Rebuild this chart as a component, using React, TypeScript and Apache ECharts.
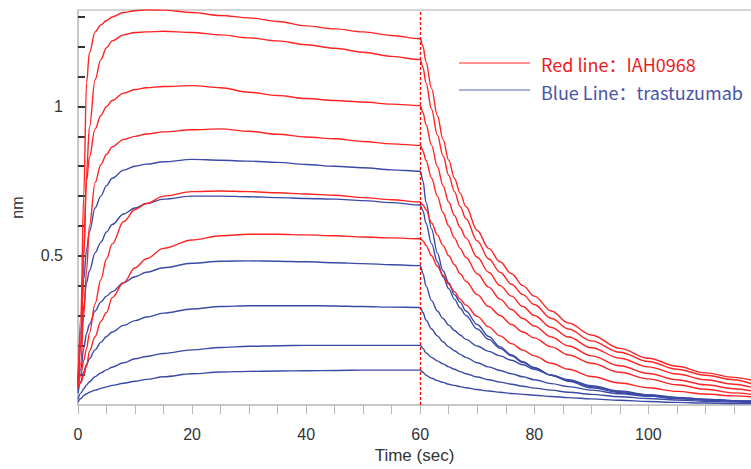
import React, { useEffect, useRef } from "react";
import * as echarts from "echarts";

// time axis (sec): association 0-60, dissociation 60-118
const timeSec = [
  0, 0.5, 1, 1.5, 2, 3, 4, 5, 6, 8, 10, 12, 15, 20, 25, 30, 35, 40, 45, 50, 55, 60,
  60.5, 61, 62, 63, 64, 65, 66, 67, 68, 70, 72, 74, 76, 78, 80, 83, 86, 90, 95, 100, 105, 110, 115, 118,
];

// IAH0968 (red) responses, nm
const red1 = [0.06, 0.3, 0.7, 1.08, 1.18, 1.25, 1.273, 1.288, 1.3, 1.315, 1.321, 1.324, 1.323, 1.315, 1.305, 1.297, 1.285, 1.27, 1.26, 1.25, 1.238, 1.227,
  1.2, 1.15, 1.06, 0.97, 0.89, 0.82, 0.76, 0.71, 0.665, 0.585, 0.525, 0.48, 0.44, 0.4, 0.365, 0.315, 0.275, 0.235, 0.19, 0.157, 0.13, 0.108, 0.093, 0.084];
const red2 = [0.06, 0.2, 0.5, 0.78, 0.93, 1.09, 1.157, 1.197, 1.22, 1.24, 1.248, 1.25, 1.252, 1.248, 1.24, 1.23, 1.22, 1.207, 1.195, 1.182, 1.168, 1.157,
  1.13, 1.08, 0.99, 0.905, 0.835, 0.77, 0.715, 0.665, 0.625, 0.55, 0.49, 0.445, 0.405, 0.37, 0.337, 0.29, 0.255, 0.215, 0.177, 0.146, 0.12, 0.1, 0.085, 0.072];
const red3 = [0.06, 0.2, 0.5, 0.75, 0.83, 0.925, 0.97, 1.0, 1.02, 1.045, 1.057, 1.063, 1.067, 1.07, 1.063, 1.048, 1.037, 1.027, 1.02, 1.015, 1.008, 1.003,
  0.98, 0.94, 0.87, 0.8, 0.735, 0.68, 0.635, 0.595, 0.56, 0.495, 0.445, 0.4, 0.365, 0.33, 0.3, 0.26, 0.228, 0.192, 0.157, 0.128, 0.104, 0.085, 0.07, 0.06];
const red4 = [0.06, 0.14, 0.3, 0.45, 0.6, 0.745, 0.805, 0.84, 0.865, 0.89, 0.9, 0.908, 0.915, 0.922, 0.925, 0.917, 0.907, 0.898, 0.892, 0.883, 0.875, 0.87,
  0.85, 0.82, 0.76, 0.7, 0.645, 0.6, 0.56, 0.525, 0.495, 0.44, 0.395, 0.355, 0.32, 0.29, 0.265, 0.228, 0.198, 0.165, 0.132, 0.106, 0.085, 0.068, 0.055, 0.048];
const red5 = [0.06, 0.1, 0.15, 0.19, 0.24, 0.34, 0.42, 0.49, 0.54, 0.615, 0.655, 0.675, 0.7, 0.715, 0.717, 0.715, 0.711, 0.707, 0.703, 0.695, 0.688, 0.68,
  0.67, 0.655, 0.61, 0.57, 0.535, 0.5, 0.47, 0.44, 0.415, 0.37, 0.33, 0.3, 0.27, 0.245, 0.225, 0.195, 0.168, 0.14, 0.11, 0.088, 0.068, 0.053, 0.041, 0.036];
const red6 = [0.06, 0.075, 0.1, 0.13, 0.18, 0.23, 0.28, 0.31, 0.36, 0.41, 0.46, 0.49, 0.525, 0.553, 0.567, 0.572, 0.572, 0.57, 0.567, 0.563, 0.56, 0.557,
  0.55, 0.535, 0.5, 0.465, 0.435, 0.405, 0.38, 0.355, 0.335, 0.297, 0.262, 0.232, 0.206, 0.184, 0.165, 0.14, 0.12, 0.096, 0.074, 0.058, 0.046, 0.037, 0.031, 0.028];

// trastuzumab (blue) responses, nm
const blue1 = [0.08, 0.25, 0.42, 0.52, 0.58, 0.66, 0.7, 0.735, 0.76, 0.787, 0.8, 0.807, 0.815, 0.823, 0.82, 0.817, 0.813, 0.806, 0.8, 0.795, 0.788, 0.783,
  0.75, 0.68, 0.59, 0.51, 0.45, 0.41, 0.37, 0.345, 0.315, 0.27, 0.23, 0.195, 0.168, 0.145, 0.125, 0.1, 0.08, 0.058, 0.042, 0.03, 0.022, 0.017, 0.013, 0.012];
const blue2 = [0.07, 0.2, 0.33, 0.41, 0.45, 0.51, 0.545, 0.58, 0.605, 0.64, 0.66, 0.675, 0.69, 0.7, 0.7, 0.698, 0.695, 0.692, 0.69, 0.685, 0.678, 0.67,
  0.65, 0.61, 0.54, 0.48, 0.43, 0.39, 0.355, 0.325, 0.3, 0.255, 0.22, 0.19, 0.165, 0.143, 0.125, 0.1, 0.082, 0.062, 0.045, 0.033, 0.025, 0.019, 0.015, 0.014];
const blue3 = [0.05, 0.12, 0.19, 0.24, 0.27, 0.315, 0.345, 0.365, 0.38, 0.41, 0.43, 0.445, 0.46, 0.475, 0.482, 0.483, 0.482, 0.48, 0.477, 0.474, 0.47, 0.467,
  0.44, 0.4, 0.35, 0.315, 0.29, 0.268, 0.25, 0.235, 0.22, 0.198, 0.18, 0.165, 0.15, 0.135, 0.12, 0.1, 0.085, 0.065, 0.047, 0.035, 0.026, 0.02, 0.015, 0.013];
const blue4 = [0.04, 0.08, 0.11, 0.135, 0.155, 0.185, 0.21, 0.23, 0.245, 0.267, 0.283, 0.295, 0.308, 0.322, 0.33, 0.333, 0.333, 0.333, 0.332, 0.33, 0.328, 0.327,
  0.31, 0.285, 0.255, 0.232, 0.212, 0.195, 0.182, 0.17, 0.16, 0.142, 0.128, 0.116, 0.105, 0.095, 0.085, 0.072, 0.062, 0.05, 0.038, 0.03, 0.023, 0.018, 0.014, 0.012];
const blue5 = [0.02, 0.04, 0.055, 0.067, 0.078, 0.095, 0.108, 0.118, 0.127, 0.142, 0.155, 0.163, 0.173, 0.185, 0.193, 0.197, 0.199, 0.2, 0.2, 0.2, 0.2, 0.2,
  0.19, 0.175, 0.16, 0.148, 0.138, 0.128, 0.12, 0.112, 0.105, 0.094, 0.085, 0.077, 0.07, 0.063, 0.057, 0.05, 0.043, 0.036, 0.028, 0.022, 0.017, 0.013, 0.01, 0.009];
const blue6 = [0.01, 0.022, 0.032, 0.038, 0.043, 0.05, 0.056, 0.061, 0.066, 0.073, 0.08, 0.086, 0.095, 0.105, 0.111, 0.113, 0.114, 0.115, 0.116, 0.117, 0.117, 0.117,
  0.11, 0.1, 0.09, 0.082, 0.076, 0.07, 0.066, 0.062, 0.058, 0.052, 0.047, 0.043, 0.039, 0.036, 0.033, 0.029, 0.025, 0.021, 0.016, 0.012, 0.009, 0.007, 0.005, 0.005];

const redCurves = [red1, red2, red3, red4, red5, red6];
const blueCurves = [blue1, blue2, blue3, blue4, blue5, blue6];
const switchTime = 60;
const xTickValues = [0, 5, 10, 15, 20, 25, 30, 35, 40, 45, 50, 55, 60, 65, 70, 75, 80, 85, 90, 95, 100, 105, 110, 115];
const xTickLabels = [0, 20, 40, 60, 80, 100];
const yTickValues = [0.1, 0.2, 0.3, 0.4, 0.5, 0.6, 0.7, 0.8, 0.9, 1, 1.1, 1.2, 1.3];
const yTickLabels = [0.5, 1];
const redName = "Red line：IAH0968";
const blueName = "Blue Line：trastuzumab";

const RED = "#ff2424";
const BLUE = "#3b4aa6";

export default function App() {
  const ref = useRef<HTMLDivElement>(null);
  useEffect(() => {
    if (!ref.current) return;
    const chart = echarts.init(ref.current, undefined, { renderer: "svg" });
    const mk = (vals: number[], color: string, name: string, extra: any = {}) => ({
      type: "line",
      name,
      data: timeSec.map((t, i) => [t, vals[i]]),
      showSymbol: false,
      symbol: "none",
      smooth: 0.35,
      smoothMonotone: "x",
      lineStyle: { color, width: 1.4 },
      itemStyle: { color },
      ...extra,
    });
    const series: any[] = [];
    blueCurves.forEach((c) => series.push(mk(c, BLUE, blueName)));
    redCurves.forEach((c, i) =>
      series.push(
        mk(c, RED, redName, i === 0
          ? {
              markLine: {
                silent: true,
                symbol: ["none", "none"],
                label: { show: false },
                lineStyle: { color: "#ff0000", type: [3, 2], width: 1.3 },
                data: [{ xAxis: switchTime }],
              },
            }
          : {})
      )
    );
    chart.setOption({
      animation: false,
      backgroundColor: "#ffffff",
      grid: { left: 78, right: 0, top: 10, bottom: 62, containLabel: false },
      xAxis: [
        {
          type: "value",
          min: 0,
          max: 118,
          name: "Time (sec)",
          nameLocation: "middle",
          nameGap: 39,
          nameTextStyle: { fontFamily: "Liberation Sans", fontSize: 17, color: "#333" },
          axisLine: { show: true, lineStyle: { color: "#c8c8c8", width: 2 } },
          axisTick: {
            show: true,
            inside: false,
            length: 9,
            customValues: xTickValues,
            lineStyle: { color: "#b8b8b8", width: 1 },
          },
          axisLabel: {
            margin: 21,
            fontFamily: "Liberation Sans",
            fontSize: 16,
            color: "#333",
            customValues: xTickLabels,
            formatter: (v: number) => String(v),
          },
          splitLine: { show: false },
        },
        {
          type: "value",
          position: "top",
          min: 0,
          max: 118,
          axisLine: { show: true, lineStyle: { color: "#d4d4d4", width: 2 } },
          axisTick: { show: false },
          axisLabel: { show: false },
          splitLine: { show: false },
        },
      ],
      yAxis: {
        type: "value",
        min: 0,
        max: 1.3233,
        name: "nm",
        nameLocation: "middle",
        nameRotate: 90,
        nameGap: 53,
        nameTextStyle: { fontFamily: "Liberation Sans", fontSize: 16, color: "#333" },
        axisLine: { show: true, lineStyle: { color: "#c8c8c8", width: 2 } },
        axisTick: {
          show: true,
          inside: true,
          length: 7,
          customValues: yTickValues,
          lineStyle: { color: "#333", width: 2 },
        },
        axisLabel: {
          margin: 15,
          fontFamily: "Liberation Sans",
          fontSize: 16,
          color: "#333",
          customValues: yTickLabels,
          formatter: (v: number) => String(v),
        },
        splitLine: { show: false },
      },
      graphic: [
        { type: "line", shape: { x1: 459, y1: 63, x2: 530, y2: 63 }, style: { stroke: RED, lineWidth: 1.2 } },
        {
          type: "text",
          x: 541,
          y: 64,
          style: {
            text: redName,
            fill: "#ec1c24",
            font: '18px "Noto Sans CJK SC"',
            verticalAlign: "middle",
          },
        },
        { type: "line", shape: { x1: 459, y1: 90, x2: 530, y2: 90 }, style: { stroke: "#5a66b0", lineWidth: 1.2 } },
        {
          type: "text",
          x: 541,
          y: 92,
          style: {
            text: blueName,
            fill: "#4954a6",
            font: '18px "Noto Sans CJK SC"',
            verticalAlign: "middle",
          },
        },
      ],
      series,
    });
    return () => chart.dispose();
  }, []);
  return (
    <div
      ref={ref}
      style={{ position: "fixed", left: 0, top: 0, width: 751, height: 469, background: "#fff" }}
    />
  );
}
